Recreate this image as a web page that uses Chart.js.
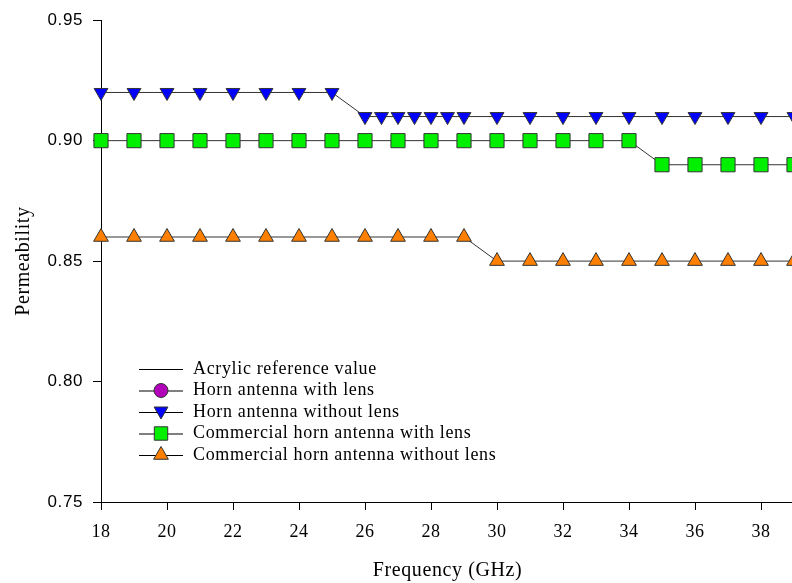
<!DOCTYPE html>
<html>
<head>
<meta charset="utf-8">
<script src="https://cdn.jsdelivr.net/npm/chart.js@4.4.0/dist/chart.umd.min.js"></script>
<style>
  html, body { margin: 0; padding: 0; background: #fff; overflow: hidden; }
  #wrap { width: 805px; height: 583px; }
</style>
</head>
<body>
<div id="wrap"><canvas id="chart" width="805" height="583"></canvas></div>
<script>
// Horn antenna without lens (blue, triangle down)
const hornNoLensFreq = [18, 19, 20, 21, 22, 23, 24, 25, 26, 26.5, 27, 27.5, 28, 28.5, 29, 30, 31, 32, 33, 34, 35, 36, 37, 38, 39];
const hornNoLensVal  = [0.92, 0.92, 0.92, 0.92, 0.92, 0.92, 0.92, 0.92, 0.91, 0.91, 0.91, 0.91, 0.91, 0.91, 0.91, 0.91, 0.91, 0.91, 0.91, 0.91, 0.91, 0.91, 0.91, 0.91, 0.91];

// Commercial horn antenna with lens (green squares)
const commLensFreq = [18, 19, 20, 21, 22, 23, 24, 25, 26, 27, 28, 29, 30, 31, 32, 33, 34, 35, 36, 37, 38, 39];
const commLensVal  = [0.90, 0.90, 0.90, 0.90, 0.90, 0.90, 0.90, 0.90, 0.90, 0.90, 0.90, 0.90, 0.90, 0.90, 0.90, 0.90, 0.90, 0.89, 0.89, 0.89, 0.89, 0.89];

// Commercial horn antenna without lens (orange triangles)
const commNoLensFreq = [18, 19, 20, 21, 22, 23, 24, 25, 26, 27, 28, 29, 30, 31, 32, 33, 34, 35, 36, 37, 38, 39];
const commNoLensVal  = [0.86, 0.86, 0.86, 0.86, 0.86, 0.86, 0.86, 0.86, 0.86, 0.86, 0.86, 0.86, 0.85, 0.85, 0.85, 0.85, 0.85, 0.85, 0.85, 0.85, 0.85, 0.85];

// not visible in the plotted range
const acrylicRef = [];
const hornLens = [];

const legendLabels = [
  'Acrylic reference value',
  'Horn antenna with lens',
  'Horn antenna without lens',
  'Commercial horn antenna with lens',
  'Commercial horn antenna without lens'
];

const toXY = (xs, ys) => xs.map((x, i) => ({ x: x, y: ys[i] }));
const LINE = '#333';
const SERIF = '"Liberation Serif", "Times New Roman", serif';
const SANS = '"Liberation Sans", Arial, sans-serif';

function drawMarker(ctx, style, x, y, r, fill) {
  ctx.save();
  ctx.fillStyle = fill;
  ctx.strokeStyle = LINE;
  ctx.lineWidth = 1;
  ctx.beginPath();
  if (style === 'circle') {
    ctx.arc(x, y, r, 0, Math.PI * 2);
  } else if (style === 'rect') {
    const s = r * Math.SQRT1_2;
    ctx.rect(x - s, y - s, 2 * s, 2 * s);
  } else if (style === 'triUp' || style === 'triDown') {
    const d = style === 'triUp' ? 1 : -1;
    ctx.moveTo(x, y - d * r);
    ctx.lineTo(x + r * 0.866, y + d * r * 0.5);
    ctx.lineTo(x - r * 0.866, y + d * r * 0.5);
    ctx.closePath();
  }
  ctx.fill();
  ctx.stroke();
  ctx.restore();
}

// the original text is set a little loose
const spacingPlugin = {
  id: 'spacing',
  beforeLayout(chart) { chart.ctx.letterSpacing = '0.6px'; },
  beforeDraw(chart) { chart.ctx.letterSpacing = '0.6px'; }
};

const legendPlugin = {
  id: 'innerLegend',
  afterDraw(chart) {
    const ctx = chart.ctx;
    const marks = [null, ['circle', '#b000b8', 7], ['triDown', '#0000ff', 8], ['rect', '#00f000', 9.5], ['triUp', '#ff8000', 8.5]];
    const x0 = 139, x1 = 183, mx = 161, tx = 193;
    const rows = [369, 390.5, 412, 433.5, 455];
    ctx.save();
    ctx.font = '18px ' + SERIF;
    ctx.letterSpacing = '0.65px';
    ctx.textBaseline = 'middle';
    ctx.fillStyle = '#000';
    legendLabels.forEach((lab, i) => {
      const y = rows[i];
      ctx.strokeStyle = '#000';
      ctx.lineWidth = 1;
      ctx.beginPath();
      ctx.moveTo(x0, y + 0.5);
      ctx.lineTo(x1, y + 0.5);
      ctx.stroke();
      if (marks[i]) drawMarker(ctx, marks[i][0], mx, y + (marks[i][0] === 'triDown' ? -1 : 0), marks[i][2], marks[i][1]);
      ctx.fillText(lab, tx, y);
    });
    ctx.restore();
  }
};

const ctx = document.getElementById('chart').getContext('2d');
new Chart(ctx, {
  type: 'scatter',
  data: {
    datasets: [
      { label: legendLabels[0], data: acrylicRef, showLine: true, borderColor: '#000', borderWidth: 1, pointRadius: 0 },
      { label: legendLabels[1], data: hornLens, showLine: true, borderColor: LINE, borderWidth: 1,
        pointStyle: 'circle', pointRadius: 7, backgroundColor: '#b000b8', pointBorderColor: LINE },
      { label: legendLabels[2], data: toXY(hornNoLensFreq, hornNoLensVal), showLine: true, borderColor: LINE, borderWidth: 1,
        pointStyle: 'triangle', rotation: 180, pointRadius: 8, backgroundColor: '#0000ff', pointBorderColor: LINE, pointBorderWidth: 1 },
      { label: legendLabels[3], data: toXY(commLensFreq, commLensVal), showLine: true, borderColor: LINE, borderWidth: 1,
        pointStyle: 'rect', pointRadius: 10, backgroundColor: '#00f000', pointBorderColor: LINE, pointBorderWidth: 1 },
      { label: legendLabels[4], data: toXY(commNoLensFreq, commNoLensVal), showLine: true, borderColor: LINE, borderWidth: 1,
        pointStyle: 'triangle', pointRadius: 8.5, backgroundColor: '#ff8000', pointBorderColor: LINE, pointBorderWidth: 1 }
    ]
  },
  options: {
    responsive: false,
    animation: false,
    clip: false,
    layout: { padding: { left: 12, top: 18, right: 0, bottom: 0 } },
    plugins: { legend: { display: false }, tooltip: { enabled: false } },
    scales: {
      x: {
        type: 'linear', min: 18, max: 39,
        afterFit: s => { s.height = 81; },
        ticks: { stepSize: 2, includeBounds: false, padding: 11, color: '#000', font: { family: SERIF, size: 18 } },
        grid: { drawOnChartArea: false, drawTicks: true, tickLength: 8, color: '#000' },
        border: { display: true, color: '#000', width: 1 },
        title: { display: true, text: 'Frequency (GHz)', color: '#000', font: { family: SERIF, size: 20 }, padding: { top: 0, bottom: 0 } }
      },
      y: {
        min: 0.75, max: 0.95,
        afterFit: s => { s.width = 89; },
        ticks: { stepSize: 0.05, padding: 10, color: '#000', font: { family: SANS, size: 17 }, callback: v => v.toFixed(2) },
        grid: { drawOnChartArea: false, drawTicks: true, tickLength: 8, color: '#000' },
        border: { display: true, color: '#000', width: 1 },
        title: { display: true, text: 'Permeability', color: '#000', font: { family: SERIF, size: 20 }, padding: { top: 0, bottom: 0 } }
      }
    }
  },
  plugins: [spacingPlugin, legendPlugin]
});
</script>
</body>
</html>
